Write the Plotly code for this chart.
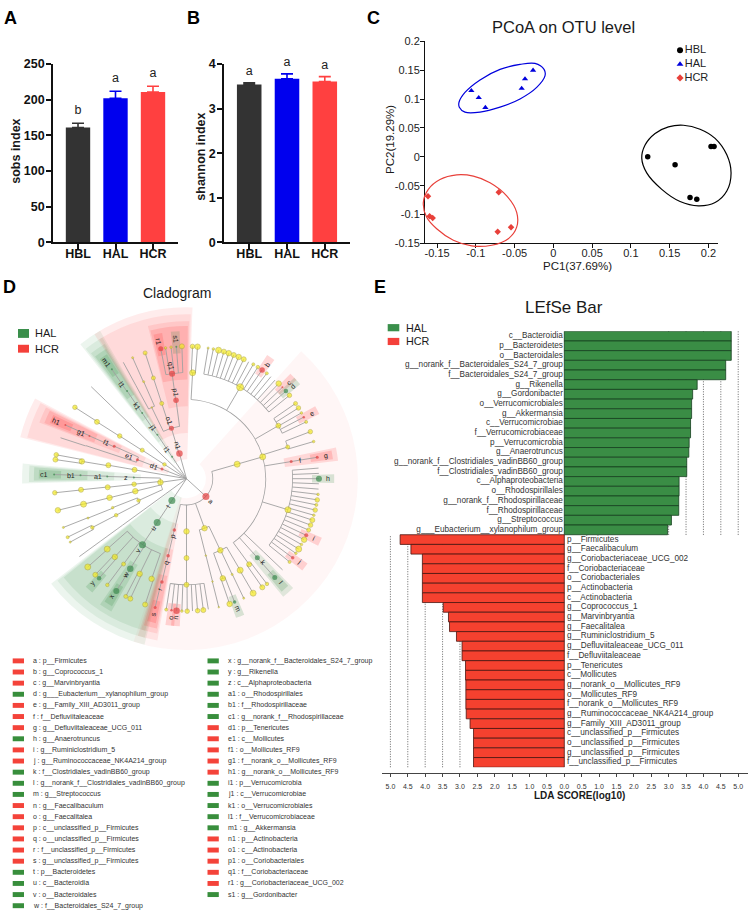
# Multi-panel microbiome figure: alpha diversity, PCoA, cladogram, LEfSe bar
import math
import plotly.graph_objects as go

FONT = "Liberation Sans"
W, H = 750, 919

groups = ["HBL", "HAL", "HCR"]
group_colors = ["#333333", "#0000ee", "#ff4040"]

# panel A / B
sobs_mean = [161, 202, 211]
sobs_err = [6, 10, 8]
sobs_letters = ["b", "a", "a"]
shannon_mean = [3.54, 3.67, 3.61]
shannon_err = [0.04, 0.11, 0.11]
shannon_letters = ["a", "a", "a"]

# panel C
pcoa_ticks_x = [-0.15, -0.1, -0.05, 0, 0.05, 0.1, 0.15, 0.2]
pcoa_ticks_y = [-0.15, -0.1, -0.05, 0, 0.05, 0.1, 0.15, 0.2]
hbl_x = [0.1217, 0.157, 0.1763, 0.185, 0.2034, 0.2073]
hbl_y = [0.0, -0.0137, -0.0707, -0.0736, 0.0177, 0.0177]
hal_x = [-0.1058, -0.0963, -0.0877, -0.0409, -0.0366, -0.0262]
hal_y = [0.1146, 0.1026, 0.0855, 0.1186, 0.1351, 0.15]
hcr_x = [-0.1617, -0.1596, -0.1557, -0.0705, -0.0718, -0.0546]
hcr_y = [-0.0684, -0.1032, -0.106, -0.0616, -0.13, -0.122]

# confidence ellipses
hbl_ell_x = [.1140, .1183, .1312, .1484, .1677, .1892, .2086, .2237, .2292, .2237, .2086, .1871, .1634, .1398, .1204, .1140]
hbl_ell_y = [-.0023, .0205, .0405, .0519, .0547, .0479, .0319, .0034, -.0279, -.0593, -.0792, -.0849, -.0775, -.0564, -.0279, -.0023]
hal_ell_x = [-.1217, -.1140, -.0946, -.0688, -.0430, -.0237, -.0120, -.0108, -.0215, -.0430, -.0688, -.0946, -.1140, -.1213, -.1217]
hal_ell_y = [.0946, .1117, .1334, .1516, .1602, .1619, .1516, .1402, .1203, .1003, .0861, .0775, .0775, .0861, .0946]
hcr_ell_x = [-.1677, -.1613, -.1462, -.1247, -.1032, -.0817, -.0602, -.0473, -.0473, -.0581, -.0796, -.1054, -.1290, -.1505, -.1634, -.1677]
hcr_ell_y = [-.0792, -.0564, -.0393, -.0314, -.0336, -.0450, -.0678, -.0963, -.1220, -.1419, -.1533, -.1545, -.1448, -.1248, -.1049, -.0792]

# panel D key
key_labels = ["a", "b", "c", "d", "e", "f", "g", "h", "i", "j", "k", "l", "m", "n", "o", "p", "q", "r", "s", "t", "u", "v", "w",
              "x", "y", "z", "a1", "b1", "c1", "d1", "e1", "f1", "g1", "h1", "i1", "j1", "k1", "l1", "m1", "n1", "o1", "p1", "q1", "r1", "s1"]
key_names = ["p__Firmicutes", "g__Coprococcus_1", "g__Marvinbryantia", "g___Eubacterium__xylanophilum_group",
             "g__Family_XIII_AD3011_group", "f__Defluviitaleaceae", "g__Defluviitaleaceae_UCG_011", "g__Anaerotruncus",
             "g__Ruminiclostridium_5", "g__Ruminococcaceae_NK4A214_group", "f__Clostridiales_vadinBB60_group",
             "g__norank_f__Clostridiales_vadinBB60_group", "g__Streptococcus", "g__Faecalibaculum", "g__Faecalitalea",
             "c__unclassified_p__Firmicutes", "o__unclassified_p__Firmicutes", "f__unclassified_p__Firmicutes",
             "g__unclassified_p__Firmicutes", "p__Bacteroidetes", "c__Bacteroidia", "o__Bacteroidales",
             "f__Bacteroidales_S24_7_group",
             "g__norank_f__Bacteroidales_S24_7_group", "g__Rikenella", "c__Alphaproteobacteria", "o__Rhodospirillales",
             "f__Rhodospirillaceae", "g__norank_f__Rhodospirillaceae", "p__Tenericutes", "c__Mollicutes", "o__Mollicutes_RF9",
             "f__norank_o__Mollicutes_RF9", "g__norank_o__Mollicutes_RF9", "p__Verrucomicrobia", "c__Verrucomicrobiae",
             "o__Verrucomicrobiales", "f__Verrucomicrobiaceae", "g__Akkermansia", "p__Actinobacteria", "c__Actinobacteria",
             "o__Coriobacteriales", "f__Coriobacteriaceae", "g__Coriobacteriaceae_UCG_002", "g__Gordonibacter"]
key_groups = ["R", "R", "R", "G", "R", "R", "R", "G", "R", "R", "G", "G", "G", "R", "R", "R", "R", "R", "R", "G", "G", "G", "G",
              "G", "G", "G", "G", "G", "G", "R", "R", "R", "R", "R", "G", "G", "G", "G", "G", "R", "R", "R", "R", "R", "G"]

# panel D tree, one set of lists per taxonomic level: angle (deg), parent index, node size
phylum_theta = [-42.4, 236.2, 216, 188, 158.6, 147, 170.3, 136, 123.3, 105.6]
phylum_size = [7, 7, 0, 5.5, 3, 3.5, 0, 0, 2, 6.5]
phylum_marks = {-42.4: "a", 236.2: "t", 158.6: "d1", 123.3: "i1", 105.6: "n1"}

class_theta = [16, -70, -90, -103.3, 236.2, 216, 178.6, 186, 193.7, 204.5, 158.8, 147.2, 170.3, 136, 123.5, 106.6]
class_parent = [0, 0, 0, 0, 1, 2, 3, 3, 3, 3, 4, 5, 6, 7, 8, 9]
class_size = [6, 5.5, 5.5, 3.5, 7, 0, 2, 4.5, 5.5, 3.5, 3, 4, 5, 0, 2, 5]
class_marks = {-103.3: "p", 236.2: "u", 178.6: "z", 158.8: "e1", 123.5: "j1", 106.6: "o1"}

order_theta = [16, -75.9, -64.7, -90, -103.4, 236.3, 216, 178.4, 186.2, 193.9, 201.4, 207.4, 155.8, 161.8, 147.4, 170.2, 136, 124, 97.6, 108.2, 116]
order_parent = [0, 1, 1, 2, 3, 4, 5, 6, 7, 8, 9, 9, 10, 10, 11, 12, 13, 14, 15, 15, 15]
order_size = [6, 1.5, 5.5, 5, 3.5, 7, 0, 2, 5, 5.5, 2.5, 3.5, 3, 0, 4.5, 5, 0, 2, 5.5, 4, 1.5]
order_marks = {-103.4: "q", 236.3: "v", 178.4: "a1", 155.8: "f1", 124: "k1", 97.6: "p1"}

family_theta = [86.7, 59.6, 30, 17.4, 9.3, -17, -43.5, -48.1, -53.8, -75.8, -70, -64.5, -59.6, -90, -103.4,
                221.6, 227.5, 233.6, 238, 243.8, 250.8, 216, 178.2, 186, 193.9, 201.8, 207.4, 156.2, 161.8,
                147.6, 170.6, 136, 124.1, 97.8, 108.2, 113.8, 118.5]
family_parent = [0, 0, 0, 0, 0, 0, 0, 0, 0, 1, 2, 2, 2, 3, 4,
                 5, 5, 5, 5, 5, 5, 6, 7, 8, 9, 10, 11, 12, 13,
                 14, 15, 16, 17, 18, 19, 20, 20]
family_size = [6, 7, 5, 4, 3, 6, 0, 5, 5, 1.5, 5.5, 2, 6, 5, 3.5,
               6, 5.5, 4, 6.5, 5.5, 5.5, 0, 2, 5, 6, 2, 3.5, 2, 0,
               5, 5.5, 0, 2, 6, 4, 2, 0]
family_marks = {9.3: "f", -48.1: "k", -103.4: "r", 238: "w", 178.2: "b1", 156.2: "g1", 124.1: "l1", 97.8: "q1"}

genus_theta = [87.4, 85.2,
               80.6, 78.3, 76, 73.6, 71.4, 69.1, 66.8, 64.4, 62, 59.7, 57.4, 55.2, 52.7, 50.4, 48.1, 45.9, 43.6, 41.4, 39,
               34.6, 32.3, 29.8, 27.7, 25.4,
               20.8, 16.3,
               9.3,
               4.6, 2.3, 0, -2.2, -4.5, -6.8, -9.2, -11.4, -13.7, -16, -18.2, -20.5, -22.8, -25.3, -27.4, -29.8, -32.1, -34.3, -36.7, -38.9,
               -43.5, -48.2, -52.6, -55.1, -75.9, -71, -68.7, -64.4, -59.8,
               -98.8, -96.5, -94.3, -92, -89.7, -87.4, -85.2, -82.7, -80.5,
               -103.7,
               221.8, 226.5, 228.7, 233.3, 238, 242.7, 244.9, 251.8,
               216, 178.2, 186.1, 193.8, 201.6, 206.2, 208.6,
               156.1, 162, 147.4, 169.6, 171.7, 136, 124.3,
               101.2, 99.1, 96.7, 94.4, 92, 108.2, 114, 118.5]
genus_parent = [0] * 2 + [1] * 19 + [2] * 5 + [3] * 2 + [4] + [5] * 20 + [6, 7, 8, 8, 9, 10, 10, 11, 12] + [13] * 9 + [14] + \
               [15, 16, 16, 17, 18, 19, 19, 20] + [21, 22, 23, 24, 25, 26, 26] + [27, 28, 29, 30, 30, 31, 32] + \
               [33] * 5 + [34, 35, 36]
genus_size = [4.5, 5.5,
              2, 2.5, 6, 5, 5.5, 5, 5.5, 5, 0, 3, 3.5, 5.5, 3, 0, 0, 5.5, 2, 4.5, 4.5,
              4, 4.5, 2.5, 2.5, 3,
              4.5, 2.5,
              3,
              0, 0, 6, 0, 0, 2.5, 4.5, 3, 4.5, 2.5, 5, 4.5, 4, 4, 5.5, 2.5, 6, 2.5, 3.5, 3,
              0, 5, 3.5, 5, 1.5, 5.5, 3.5, 2, 6,
              3, 2.5, 6.5, 2.5, 4.5, 0, 4.5, 5, 0,
              3,
              6, 5, 4.5, 3.5, 6, 4, 5, 5,
              0, 2, 4.5, 5.5, 2, 3, 2,
              2, 0, 4.5, 4.5, 5, 0, 2,
              5, 2.5, 2.5, 2, 5, 4, 2, 0]
genus_marks = {55.2: "b", 43.6: "c", 41.4: "d", 27.7: "e", 9.3: "g", 0: "h", -25.3: "i", -36.7: "j", -48.2: "l",
               -68.7: "m", -94.3: "n", -96.5: "o", -103.7: "s", 228.7: "y", 238: "x", 178.2: "c1", 156.1: "h1",
               124.3: "m1", 101.2: "r1", 94.4: "s1"}

# panel E
hal_names = ["c__Bacteroidia", "p__Bacteroidetes", "o__Bacteroidales", "g__norank_f__Bacteroidales_S24_7_group",
             "f__Bacteroidales_S24_7_group", "g__Rikenella", "g__Gordonibacter", "o__Verrucomicrobiales", "g__Akkermansia",
             "c__Verrucomicrobiae", "f__Verrucomicrobiaceae", "p__Verrucomicrobia", "g__Anaerotruncus",
             "g__norank_f__Clostridiales_vadinBB60_group", "f__Clostridiales_vadinBB60_group", "c__Alphaproteobacteria",
             "o__Rhodospirillales", "g__norank_f__Rhodospirillaceae", "f__Rhodospirillaceae", "g__Streptococcus",
             "g___Eubacterium__xylanophilum_group"]
hal_lda = [4.80, 4.80, 4.80, 4.64, 4.64, 3.82, 3.69, 3.66, 3.66, 3.63, 3.63, 3.59, 3.58, 3.52, 3.52, 3.30, 3.30, 3.29, 3.29, 3.08, 2.97]
hcr_names = ["p__Firmicutes", "g__Faecalibaculum", "g__Coriobacteriaceae_UCG_002", "f__Coriobacteriaceae", "o__Coriobacteriales",
             "p__Actinobacteria", "c__Actinobacteria", "g__Coprococcus_1", "g__Marvinbryantia", "g__Faecalitalea",
             "g__Ruminiclostridium_5", "g__Defluviitaleaceae_UCG_011", "f__Defluviitaleaceae", "p__Tenericutes", "c__Mollicutes",
             "g__norank_o__Mollicutes_RF9", "o__Mollicutes_RF9", "f__norank_o__Mollicutes_RF9", "g__Ruminococcaceae_NK4A214_group",
             "g__Family_XIII_AD3011_group", "c__unclassified_p__Firmicutes", "o__unclassified_p__Firmicutes",
             "g__unclassified_p__Firmicutes", "f__unclassified_p__Firmicutes"]
hcr_lda = [4.72, 4.41, 4.08, 4.08, 4.08, 4.08, 4.08, 3.48, 3.33, 3.30, 3.10, 2.94, 2.94, 2.84, 2.84, 2.83, 2.83, 2.83, 2.82, 2.71, 2.61, 2.61, 2.61, 2.61]
lda_ticks = [-5, -4.5, -4, -3.5, -3, -2.5, -2, -1.5, -1, -0.5, 0, 0.5, 1, 1.5, 2, 2.5, 3, 3.5, 4, 4.5, 5]


def fx(x):
    return x / W


def fy(y):
    return 1 - y / H


fig = go.Figure()
notes = []
boxes = []


def note(x, y, text, size=11, bold=False, angle=0, anchor="center", color="#1a1a1a"):
    notes.append(dict(x=fx(x), y=fy(y), xref="paper", yref="paper", text="<b>%s</b>" % text if bold else text,
                      showarrow=False, textangle=angle, xanchor=anchor, yanchor="middle", borderpad=0,
                      font=dict(family=FONT, size=size, color=color)))


def swatch(x0, x1, y0, y1, color):
    boxes.append(dict(type="rect", xref="paper", yref="paper", x0=fx(x0), x1=fx(x1), y0=fy(y1), y1=fy(y0),
                      fillcolor=color, line_width=0))


# ---- bars for A and B
def bar_panel(xa, ya, means, errs, letters, pad):
    for i, name in enumerate(groups):
        fig.add_trace(go.Bar(x=[name], y=[means[i]], xaxis=xa, yaxis=ya, width=0.65,
                             marker=dict(color=group_colors[i], line_width=0),
                             error_y=dict(type="data", symmetric=False, array=[errs[i]], arrayminus=[0],
                                          color=group_colors[i], thickness=1.6, width=6)))
    tops = [m + e + pad for m, e in zip(means, errs)]
    fig.add_trace(go.Scatter(x=groups, y=tops, text=letters, mode="text", textposition="top center", xaxis=xa, yaxis=ya,
                             cliponaxis=False, textfont=dict(family=FONT, size=12.5, color="#222222")))


bar_panel("x", "y", sobs_mean, sobs_err, sobs_letters, 8)
bar_panel("x2", "y2", shannon_mean, shannon_err, shannon_letters, 0.1)

bar_axis = dict(showgrid=False, zeroline=False, showline=True, linecolor="#111111", linewidth=1.8, ticks="outside",
                tickcolor="#111111", tickwidth=1.5, ticklen=5,
                tickfont=dict(family=FONT, size=12.5, color="#111111", weight=700))
fig.update_layout(
    xaxis=dict(domain=[fx(53), fx(178)], range=[-0.667, 2.667], type="category", categoryarray=groups, anchor="y",
               ticklabelstandoff=-6, **bar_axis),
    yaxis=dict(domain=[fy(239), fy(58)], range=[0, 250], tickvals=[0, 50, 100, 150, 200, 250], anchor="x",
               ticklabelstandoff=-1, **bar_axis),
    xaxis2=dict(domain=[fx(224), fx(350)], range=[-0.667, 2.667], type="category", categoryarray=groups, anchor="y2",
                ticklabelstandoff=-6, **bar_axis),
    yaxis2=dict(domain=[fy(239), fy(58)], range=[0, 4], tickvals=[0, 1, 2, 3, 4], anchor="x2",
                ticklabelstandoff=-1, **bar_axis),
)
note(16, 147, "sobs index", 12.5, True, -90)
note(201, 152, "shannon index", 12.5, True, -90)

# ---- PCoA
pcoa_sets = [(hbl_x, hbl_y, hbl_ell_x, hbl_ell_y, "#000000", "circle", 5.5),
             (hal_x, hal_y, hal_ell_x, hal_ell_y, "#0000dd", "triangle-up", 5.5),
             (hcr_x, hcr_y, hcr_ell_x, hcr_ell_y, "#e8403a", "diamond", 5)]
for px_, py_, ex, ey, col, sym, sz in pcoa_sets:
    # ellipses run past the axes and lines always clip, so they go on a wider hidden pair of the same scale
    fig.add_trace(go.Scatter(x=ex, y=ey, mode="lines", line=dict(color=col, width=1.2, shape="spline", smoothing=1),
                             xaxis="x5", yaxis="y5"))
    fig.add_trace(go.Scatter(x=px_, y=py_, mode="markers", marker=dict(color=col, symbol=sym, size=sz, line_width=0),
                             xaxis="x3", yaxis="y3", cliponaxis=False))
# legend of C, placed on the same axes
for (col, sym, sz), lx, ly, name in zip([(s[4], s[5], s[6]) for s in pcoa_sets], [0.1634] * 3, [0.1847, 0.1607, 0.1368], groups):
    fig.add_trace(go.Scatter(x=[lx], y=[ly], mode="markers+text", text=[name], textposition="middle right",
                             marker=dict(color=col, symbol=sym, size=sz + 0.5, line_width=0), xaxis="x3", yaxis="y3",
                             textfont=dict(family=FONT, size=11, color="#222222")))

pcoa_axis = dict(showgrid=False, zeroline=False, showline=True, linecolor="#111111", linewidth=1, ticks="outside",
                 tickcolor="#111111", tickwidth=1, ticklen=4, tickfont=dict(family=FONT, size=11, color="#222222"))
fig.update_layout(
    xaxis3=dict(domain=[fx(425), fx(717.7)], range=[-0.1656, 0.212], tickvals=pcoa_ticks_x,
                ticktext=[str(v) for v in pcoa_ticks_x], anchor="y3", ticklabelstandoff=-5, **pcoa_axis),
    yaxis3=dict(domain=[fy(240), fy(35)], range=[-0.15, 0.2], tickvals=pcoa_ticks_y,
                ticktext=[str(v) for v in pcoa_ticks_y], anchor="x3", ticklabelstandoff=-2, **pcoa_axis),
    xaxis5=dict(domain=[fx(398.3), fx(747.2)], range=[-0.2, 0.25], visible=False, anchor="y5"),
    yaxis5=dict(domain=[fy(251.7), fy(35)], range=[-0.17, 0.2], visible=False, anchor="x5"),
)
note(563, 20, "PCoA on OTU level", 16.5)
note(577, 263, "PC1(37.69%)", 11.5)
note(390, 135, "PC2(19.29%)", 11.5, angle=-90)

# ---- cladogram on a polar subplot, radius in page pixels
CX, CY, RMAX = 186.5, 479, 175
level_r = [26.7, 53.5, 80.5, 107.7, 134.5]
level_outer = [174, 167, 160, 155, 150]
level_half = [4, 3.5, 3, 2.5, 1.7]
level_alpha = [0.09, 0.09, 0.11, 0.15, 0.19]
side_color = {"R": "255,48,48", "G": "46,139,64"}
node_color = {"R": "#e34040", "G": "#3d8b50"}
key_group = dict(zip(key_labels, key_groups))

thetas = [phylum_theta, class_theta, order_theta, family_theta, genus_theta]
parents = [[None] * len(phylum_theta), class_parent, order_parent, family_parent, genus_parent]
sizes = [phylum_size, class_size, order_size, family_size, genus_size]
marks = [phylum_marks, class_marks, order_marks, family_marks, genus_marks]

# angular span of each clade, from the leaves upward
spans = [None] * 5
spans[4] = [(t, t) for t in genus_theta]
for lev in range(3, -1, -1):
    lo_hi = {}
    for i, p in enumerate(parents[lev + 1]):
        a, b = spans[lev + 1][i]
        lo, hi = lo_hi.get(p, (a, b))
        lo_hi[p] = (min(lo, a), max(hi, b))
    spans[lev] = [lo_hi[i] for i in range(len(thetas[lev]))]

sec_r, sec_t, sec_w, sec_b, sec_c = [], [], [], [], []
for lev in range(5):
    for i, t in enumerate(thetas[lev]):
        lab = marks[lev].get(t)
        if not lab:
            continue
        lo, hi = spans[lev][i]
        inner = level_r[lev] - 7
        rgb = side_color[key_group[lab]]
        mid, width, alpha = (lo + hi) / 2, hi - lo + 2 * level_half[lev], level_alpha[lev]
        if lab == "a":  # Firmicutes shade is much paler and stops short of the top genera
            mid, width, alpha = -30, 156, 0.045
        sec_r.append(level_outer[lev] - inner)
        sec_t.append(mid)
        sec_w.append(width)
        sec_b.append(inner)
        sec_c.append("rgba(%s,%s)" % (rgb, alpha))
fig.add_trace(go.Barpolar(r=sec_r, theta=sec_t, width=sec_w, base=sec_b, marker=dict(color=sec_c, line_width=0)))

# arcs joining siblings, as thin annular bars
arc_r, arc_t, arc_w, arc_b = [], [], [], []
for lev in range(4):
    for i in range(len(thetas[lev])):
        kids = [thetas[lev + 1][k] for k, p in enumerate(parents[lev + 1]) if p == i]
        if len(kids) > 1:
            arc_r.append(0.8)
            arc_b.append(level_r[lev] - 0.4)
            arc_t.append((min(kids) + max(kids)) / 2)
            arc_w.append(max(kids) - min(kids))
fig.add_trace(go.Barpolar(r=arc_r, theta=arc_t, width=arc_w, base=arc_b, marker=dict(color="#a0a0a0", line_width=0)))

# radial stems
stem_r, stem_t = [], []
for lev in range(5):
    for i, t in enumerate(thetas[lev]):
        start = 0 if lev == 0 else level_r[lev - 1]
        stem_r += [start, level_r[lev], None]
        stem_t += [t, t, None]
fig.add_trace(go.Scatterpolar(r=stem_r, theta=stem_t, mode="lines", line=dict(color="#a0a0a0", width=0.9), connectgaps=False))

# nodes
nod_r, nod_t, nod_s, nod_c, nod_l = [], [], [], [], []
for lev in range(5):
    for i, t in enumerate(thetas[lev]):
        if sizes[lev][i] == 0:
            continue
        lab = marks[lev].get(t)
        nod_r.append(level_r[lev])
        nod_t.append(t)
        nod_s.append(sizes[lev][i])
        nod_c.append(node_color[key_group[lab]] if lab else "#f4ea1e")
        nod_l.append("rgba(0,0,0,0)" if lab else "#aaa236")
fig.add_trace(go.Scatterpolar(r=nod_r, theta=nod_t, mode="markers",
                              marker=dict(size=nod_s, color=nod_c, line=dict(color=nod_l, width=0.7))))

# rotated clade letters just outside their node
for lev in range(5):
    for t, lab in marks[lev].items():
        rr = level_r[lev] + (8 if len(lab) > 1 else 7)
        a = math.radians(t)
        ang = -t if math.cos(a) >= 0 else 180 - t
        note(CX + rr * math.cos(a), CY - rr * math.sin(a), lab, 7, angle=ang, color="#222222")

fig.update_layout(polar=dict(domain=dict(x=[fx(CX - RMAX), fx(CX + RMAX)], y=[fy(CY + RMAX), fy(CY - RMAX)]),
                             bgcolor="rgba(0,0,0,0)", barmode="overlay",
                             radialaxis=dict(visible=False, range=[0, RMAX]),
                             angularaxis=dict(visible=False, direction="counterclockwise", rotation=0)))

note(177, 290, "Cladogram", 14)
swatch(18, 29, 327, 336, "#3a8f4b")
swatch(18, 29, 343, 351, "#f4403a")
note(33.5, 331, "HAL", 11, anchor="left")
note(33.5, 347, "HCR", 11, anchor="left")

# key below the cladogram
for i, (lab, nm, gr) in enumerate(zip(key_labels, key_names, key_groups)):
    col = 0 if i < 23 else 1
    row = i if i < 23 else i - 23
    y0 = 664 + 11.3 * row
    x0 = 12.7 if col == 0 else 207.5
    swatch(x0, x0 + 11.3, y0 - 2.5, y0 + 2.5, "#f4433a" if gr == "R" else "#388e3c")
    note(x0 + 19.3, y0, "%s : %s" % (lab, nm), 7, anchor="left", color="#333333")

# ---- LEfSe bar
row_order = hal_names + hcr_names
for v in [3, 3.5, 4, 4.5, 5]:
    boxes.append(dict(type="line", xref="x4", yref="paper", x0=v, x1=v, y0=fy(536), y1=fy(329), layer="below",
                      line=dict(color="#555555", width=0.9, dash="1px,1.5px")))
    boxes.append(dict(type="line", xref="x4", yref="paper", x0=-v, x1=-v, y0=fy(772), y1=fy(536), layer="below",
                      line=dict(color="#555555", width=0.9, dash="1px,1.5px")))
fig.add_trace(go.Bar(x=hal_lda, y=hal_names, orientation="h", xaxis="x4", yaxis="y4", width=1,
                     marker=dict(color="#3a8d45", line=dict(color="#17401f", width=0.8))))
fig.add_trace(go.Bar(x=[-v for v in hcr_lda], y=hcr_names, orientation="h", xaxis="x4", yaxis="y4", width=1,
                     marker=dict(color="#f5412f", line=dict(color="#4a1510", width=0.8))))
fig.add_trace(go.Scatter(x=[-0.04] * len(hal_names), y=hal_names, text=hal_names, mode="text", textposition="middle left",
                         xaxis="x4", yaxis="y4", cliponaxis=False, textfont=dict(family=FONT, size=8.2, color="#333333")))
fig.add_trace(go.Scatter(x=[0.08] * len(hcr_names), y=hcr_names, text=hcr_names, mode="text", textposition="middle right",
                         xaxis="x4", yaxis="y4", cliponaxis=False, textfont=dict(family=FONT, size=8.2, color="#333333")))
fig.update_layout(
    xaxis4=dict(domain=[fx(381.7), fx(748.3)], range=[-5.25, 5.29], anchor="free", position=fy(778), showgrid=False, zeroline=False,
                showline=True, linecolor="#444444", linewidth=1, ticks="outside", ticklen=3, tickwidth=0.8, tickcolor="#444444",
                tickvals=lda_ticks, ticktext=["%.1f" % abs(v) for v in lda_ticks], tickangle=0, ticklabelstandoff=3,
                tickfont=dict(family=FONT, size=7, color="#333333")),
    yaxis4=dict(domain=[fy(772), fy(329.3)], type="category", categoryarray=row_order, range=[44.5, -0.5], visible=False, anchor="x4"),
)
note(564, 305, "LEfSe Bar", 17)
note(579, 800.7, "LDA SCORE(log10)", 10, True)
swatch(387.7, 399.3, 322, 329.3, "#3a8f4b")
swatch(387.7, 399.3, 336, 343.3, "#f4403a")
note(405, 325.7, "HAL", 10.8, anchor="left")
note(405, 339.5, "HCR", 10.8, anchor="left")

# panel letters
for lx, ly, lt in [(10, 11, "A"), (193, 11, "B"), (373, 11, "C"), (9, 284, "D"), (380, 284, "E")]:
    note(lx, ly, lt, 18, True, color="#000000")

fig.update_layout(width=W, height=H, autosize=False, margin=dict(l=0, r=0, t=0, b=0), paper_bgcolor="white",
                  plot_bgcolor="rgba(0,0,0,0)", showlegend=False, hovermode=False, barmode="overlay",
                  annotations=notes, shapes=boxes, font=dict(family=FONT))
fig.write_html("out.html", config={"displayModeBar": False},
               post_script="document.body.style.margin='0';document.body.style.overflow='hidden';")
